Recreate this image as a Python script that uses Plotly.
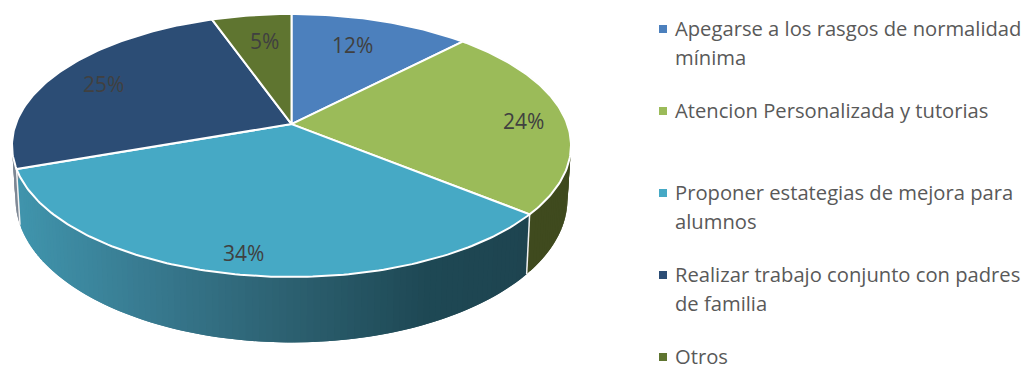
import math
import plotly.graph_objects as go

# --- data (shares in percent) ---
categories = [
    "Apegarse a los rasgos de normalidad mínima",
    "Atencion Personalizada y tutorias",
    "Proponer estategias de mejora para alumnos",
    "Realizar trabajo conjunto con padres de familia",
    "Otros",
]
values = [12.2, 23.7, 33.7, 25.0, 5.4]
legend_lines = [
    ["Apegarse a los rasgos de normalidad", "mínima"],
    ["Atencion Personalizada y tutorias"],
    ["Proponer estategias de mejora para", "alumnos"],
    ["Realizar trabajo conjunto con padres", "de familia"],
    ["Otros"],
]
top_colors = ["#4c80bd", "#9bbb59", "#46a9c5", "#2c4d75", "#5f7530"]
wall_colors = ["#2b4a6e", "#3f4a1e", None, "#7d8794", "#3a4a1e"]
teal_stops = [(0.0, (64, 149, 173)), (0.25, (56, 122, 144)), (0.53, (44, 96, 112)),
              (0.8, (30, 72, 84)), (1.0, (30, 68, 80))]

# --- layout of the drawing (pixels) ---
W, H = 1034, 367
TOP = dict(cx=291.5, cy=145.5, rx=279.5, ry=131.5)
BOT = dict(cx=291.5, cy=199.0, rx=276.0, ry=143.4)
V = -0.163  # perspective shift of the pie centre
label_pos = [(352, 45), (523, 121), (243, 253), (103, 84), (264, 41)]
legend_y = [29, 111, 193, 275, 357]
LINE_H = 29
LEG_FONT = 20.2
LABEL_FONT = 21
FONT = "Open Sans"


def project(frac, e):
    th = 2 * math.pi * frac
    x, y = math.sin(th), -math.cos(th)
    d = 1 + V * y
    xp = x * math.sqrt(1 - V * V) / d
    yp = (y + V) / d
    return e["cx"] + xp * e["rx"], e["cy"] + yp * e["ry"]


def centre(e):
    return e["cx"], e["cy"] + V * e["ry"]


def teal(t):
    t = max(0.0, min(1.0, t))
    for (a, ca), (b, cb) in zip(teal_stops, teal_stops[1:]):
        if t <= b:
            u = (t - a) / (b - a)
            c = [round(ca[i] + (cb[i] - ca[i]) * u) for i in range(3)]
            return "rgb(%d,%d,%d)" % tuple(c)
    return "rgb(30,68,80)"


fig = go.Figure()
total = sum(values)
edges = [0.0]
for v in values:
    edges.append(edges[-1] + v / total)

# walls: thin overlapping strips so no seams appear
for i, (a, b) in enumerate(zip(edges, edges[1:])):
    n = max(2, int((b - a) * 300))
    step = (b - a) / n
    for k in range(n):
        f0 = a + step * max(0, k - 1)
        f1 = a + step * (k + 1)
        t0 = project(f0, TOP)
        t1 = project(f1, TOP)
        b0 = project(f0, BOT)
        b1 = project(f1, BOT)
        if wall_colors[i] is None:
            col = teal(((b0[0] + b1[0]) / 2 - 18) / 507)
        else:
            col = wall_colors[i]
        fig.add_trace(go.Scatter(
            x=[t0[0], t1[0], b1[0], b0[0], t0[0]],
            y=[t0[1], t1[1], b1[1], b0[1], t0[1]],
            mode="lines", fill="toself", fillcolor=col,
            line=dict(color=col, width=0), hoverinfo="skip", showlegend=False))

# white edges on the visible wall boundaries
for idx in (2, 3):
    t0 = project(edges[idx], TOP)
    b0 = project(edges[idx], BOT)
    fig.add_trace(go.Scatter(x=[t0[0], b0[0]], y=[t0[1], b0[1]], mode="lines",
                             line=dict(color="#f2f2f2", width=1.5),
                             hoverinfo="skip", showlegend=False))

# top face
cx0, cy0 = centre(TOP)
for i, (a, b) in enumerate(zip(edges, edges[1:])):
    n = max(4, int((b - a) * 400))
    pts = [project(a + (b - a) * k / n, TOP) for k in range(n + 1)]
    xs = [cx0] + [p[0] for p in pts] + [cx0]
    ys = [cy0] + [p[1] for p in pts] + [cy0]
    fig.add_trace(go.Scatter(x=xs, y=ys, mode="lines", fill="toself",
                             fillcolor=top_colors[i],
                             line=dict(color="white", width=2),
                             name=categories[i], text=["%g%%" % values[i]] * len(xs),
                             hoverinfo="name+text", showlegend=False))

annotations = []
for v, (x, y) in zip(values, label_pos):
    annotations.append(dict(x=x, y=y, xref="x", yref="y", text="%d%%" % round(v),
                            showarrow=False, xanchor="center", yanchor="middle",
                            font=dict(family=FONT, size=LABEL_FONT, color="#404040")))

shapes = []
for lines, y, col in zip(legend_lines, legend_y, top_colors):
    shapes.append(dict(type="rect", xref="x", yref="y", x0=659, x1=667, y0=y - 4, y1=y + 4,
                       fillcolor=col, line=dict(width=0), layer="above"))
    for j, line in enumerate(lines):
        annotations.append(dict(x=673, y=y + j * LINE_H - 1, xref="x", yref="y", text=line,
                                showarrow=False, xanchor="left", yanchor="middle",
                                font=dict(family=FONT, size=LEG_FONT, color="#595959")))

fig.update_layout(
    width=W, height=H, margin=dict(l=0, r=0, t=0, b=0),
    paper_bgcolor="white", plot_bgcolor="white", showlegend=False,
    xaxis=dict(range=[0, W], visible=False, fixedrange=True),
    yaxis=dict(range=[H, 0], visible=False, fixedrange=True),
    annotations=annotations, shapes=shapes,
)
fig.write_html("out.html", config={"displayModeBar": False},
               post_script="document.body.style.margin='0';document.documentElement.style.overflow='hidden';")
